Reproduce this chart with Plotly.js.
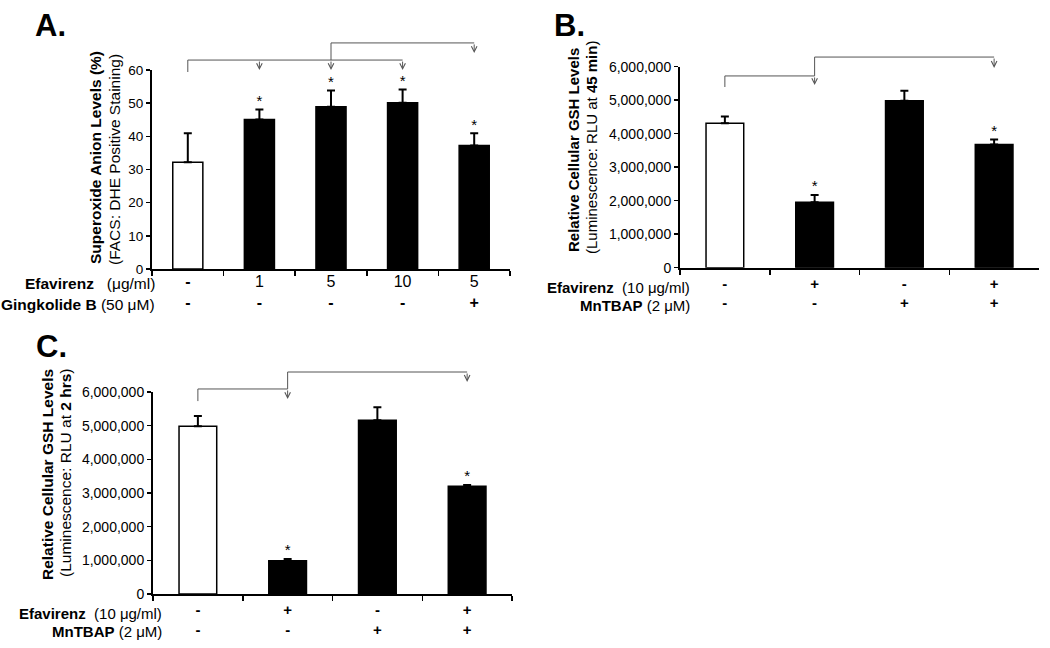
<!DOCTYPE html>
<html>
<head>
<meta charset="utf-8">
<script src="https://cdn.plot.ly/plotly-3.0.1.min.js"></script>
<style>html,body{margin:0;padding:0;background:#fff;}</style>
</head>
<body>
<div id="chart" style="width:1050px;height:648px;"></div>
<script>
// ---------- Panel A ----------
const efavA = ['-', '1', '5', '10', '5'];
const ginkA = ['-', '-', '-', '-', '+'];
const valsA = [32.2, 45.1, 48.9, 50.1, 37.2];
const errA  = [8.7, 3.0, 4.9, 4.0, 3.7];
const sigA  = [false, true, true, true, true];
const fillA = ['white', 'black', 'black', 'black', 'black'];

// ---------- Panel B ----------
const efavB = ['-', '+', '-', '+'];
const mnB   = ['-', '-', '+', '+'];
const valsB = [4310000, 1950000, 4980000, 3680000];
const errB  = [200000, 220000, 300000, 150000];
const sigB  = [false, true, false, true];
const fillB = ['white', 'black', 'black', 'black'];

// ---------- Panel C ----------
const efavC = ['-', '+', '-', '+'];
const mnC   = ['-', '-', '+', '+'];
const valsC = [4980000, 990000, 5160000, 3200000];
const errC  = [310000, 50000, 390000, 40000];
const sigC  = [false, true, false, true];
const fillC = ['white', 'black', 'black', 'black'];

const FONT = 'Liberation Sans, Arial, Helvetica, sans-serif';
const W = 1050, H = 648;

function fmt(s) { return (s === '+' || s === '-') ? '<b>' + s + '</b>' : s; }
function cats(r1, r2) { return r1.map((v, i) => fmt(v) + '<br>' + fmt(r2[i])); }

const catA = cats(efavA, ginkA);
const catB = cats(efavB, mnB);
const catC = cats(efavC, mnC);

function barTrace(x, y, e, fill, xa, ya) {
  return {
    type: 'bar', x: x, y: y, xaxis: xa, yaxis: ya, width: 0.42,
    marker: { color: fill, line: { color: 'black', width: 1.5 } },
    error_y: { type: 'data', array: e, arrayminus: e.map(() => 0), symmetric: false,
               color: 'black', thickness: 2, width: 4 },
    hoverinfo: 'skip', showlegend: false
  };
}
function starTrace(x, y, e, sig, xa, ya) {
  return {
    type: 'scatter', mode: 'text', x: x, y: y.map((v, i) => v + e[i]),
    text: sig.map(s => s ? '*' : ''), textposition: 'top center',
    textfont: { family: FONT, size: 15, color: 'black' },
    xaxis: xa, yaxis: ya, cliponaxis: false, hoverinfo: 'skip', showlegend: false
  };
}

const data = [
  barTrace(catA, valsA, errA, fillA, 'x', 'y'),
  starTrace(catA, valsA, errA, sigA, 'x', 'y'),
  barTrace(catB, valsB, errB, fillB, 'x2', 'y2'),
  starTrace(catB, valsB, errB, sigB, 'x2', 'y2'),
  barTrace(catC, valsC, errC, fillC, 'x3', 'y3'),
  starTrace(catC, valsC, errC, sigC, 'x3', 'y3')
];

function xax(px0, px1, anchor, fsize, standoff) {
  return {
    domain: [px0 / W, px1 / W], anchor: anchor, type: 'category',
    showline: true, linecolor: 'black', linewidth: 2,
    ticks: 'outside', ticklen: 5, tickwidth: 1.5, tickcolor: 'black', tickson: 'boundaries',
    ticklabelstandoff: standoff,
    showgrid: false, zeroline: false, fixedrange: true,
    tickfont: { family: FONT, size: fsize, color: 'black' }
  };
}
function yax(pxTop, pxBot, anchor, range, dtick, fmtStr, fsize) {
  return {
    domain: [1 - pxBot / H, 1 - pxTop / H], anchor: anchor, range: range, dtick: dtick,
    tickformat: fmtStr, showline: true, linecolor: 'black', linewidth: 2,
    ticks: 'outside', ticklen: 4, tickwidth: 1.5, tickcolor: 'black',
    showgrid: false, zeroline: false, fixedrange: true,
    tickfont: { family: FONT, size: fsize, color: 'black' }
  };
}

// pixel geometry of plot areas
const geo = {
  A: { x0: 152, x1: 510, top: 70, bot: 269 },
  B: { x0: 680, x1: 1039, top: 66.7, bot: 267.7 },
  C: { x0: 153, x1: 512, top: 392, bot: 594 }
};

const layout = {
  width: W, height: H, margin: { l: 0, r: 0, t: 0, b: 0 },
  paper_bgcolor: 'white', plot_bgcolor: 'rgba(0,0,0,0)',
  font: { family: FONT, color: 'black' },
  showlegend: false,
  xaxis: xax(geo.A.x0, geo.A.x1, 'y', 16, -3),
  yaxis: yax(geo.A.top, geo.A.bot, 'x', [0, 60], 10, '', 13.5),
  xaxis2: xax(geo.B.x0, geo.B.x1, 'y2', 15, 1),
  yaxis2: yax(geo.B.top, geo.B.bot, 'x2', [0, 6000000], 1000000, ',d', 14),
  xaxis3: xax(geo.C.x0, geo.C.x1, 'y3', 15, 1),
  yaxis3: yax(geo.C.top, geo.C.bot, 'x3', [0, 6000000], 1000000, ',d', 14),
  shapes: [], annotations: []
};

// significance brackets: from category index, to indices, levels in axis-domain units
const bracketsA = [
  { from: 0, to: [1, 2, 3], start: 0.99, level: 1.05, tip: 1.0 },
  { from: 2, to: [4], start: 1.05, level: 1.136, tip: 1.085 }
];
const bracketsB = [
  { from: 0, to: [1], start: 0.899, level: 0.954, tip: 0.909 },
  { from: 1, to: [3], start: 0.954, level: 1.048, tip: 0.994 }
];
const bracketsC = [
  { from: 0, to: [1], start: 0.955, level: 1.015, tip: 0.965 },
  { from: 1, to: [3], start: 1.015, level: 1.099, tip: 1.05 }
];
const BR = '#555555';
function addBrackets(brs, catsArr, xa, ya, g) {
  const hpx = g.bot - g.top;
  brs.forEach(b => {
    const last = b.to[b.to.length - 1];
    layout.shapes.push({ type: 'line', xref: xa, yref: ya + ' domain',
      x0: catsArr[b.from], x1: catsArr[b.from], y0: b.start, y1: b.level,
      line: { color: BR, width: 1 } });
    layout.shapes.push({ type: 'line', xref: xa, yref: ya + ' domain',
      x0: catsArr[b.from], x1: catsArr[last], y0: b.level, y1: b.level,
      line: { color: BR, width: 1 } });
    b.to.forEach(t => {
      layout.annotations.push({ xref: xa, yref: ya + ' domain', x: catsArr[t], y: b.tip,
        ax: 0, ay: -(b.level - b.tip) * hpx, axref: 'pixel', ayref: 'pixel',
        text: '', showarrow: true, arrowhead: 5, arrowsize: 1.1, arrowwidth: 1,
        arrowcolor: BR, standoff: 0, startstandoff: 0 });
    });
  });
}
addBrackets(bracketsA, catA, 'x', 'y', geo.A);
addBrackets(bracketsB, catB, 'x2', 'y2', geo.B);
addBrackets(bracketsC, catC, 'x3', 'y3', geo.C);

function pann(text, px, py, size, opts) {
  layout.annotations.push(Object.assign({
    xref: 'paper', yref: 'paper', x: px / W, y: 1 - py / H, text: text, showarrow: false,
    font: { family: FONT, size: size, color: 'black' }
  }, opts || {}));
}
const NB = '\u00a0';
const LBL = { xanchor: 'left', yanchor: 'middle' };
const RGT = { xanchor: 'right', yanchor: 'middle' };
const ROT = { textangle: -90, xanchor: 'center', yanchor: 'middle' };

// panel letters
pann('<b>A.</b>', 33, 26, 31, LBL);
pann('<b>B.</b>', 552, 26, 31, LBL);
pann('<b>C.</b>', 34, 346, 31, LBL);

// row headers
pann('<b>Efavirenz</b>' + NB + NB + NB + '(\u03bcg/ml)', 157, 283, 15.5, RGT);
pann('<b>Gingkolide B</b>' + NB + '(50' + NB + '\u03bcM)', 157, 304, 15.5, RGT);
pann('<b>Efavirenz</b>' + NB + NB + '(10' + NB + '\u03bcg/ml)', 692, 287, 15, RGT);
pann('<b>MnTBAP</b>' + NB + '(2' + NB + '\u03bcM)', 692, 305, 15, RGT);
pann('<b>Efavirenz</b>' + NB + NB + '(10' + NB + '\u03bcg/ml)', 164, 613, 15, RGT);
pann('<b>MnTBAP</b>' + NB + '(2' + NB + '\u03bcM)', 164, 631, 15, RGT);

// y titles (each line placed separately)
pann('<b>Superoxide Anion Levels (%)</b>', 96, 158, 15.5, ROT);
pann('(FACS: DHE Positive Staining)', 114, 160, 15.5, ROT);
pann('<b>Relative Cellular GSH Levels</b>', 573, 150, 15, ROT);
pann('(Luminescence: RLU at <b>45 min</b>)', 591, 148, 15, ROT);
pann('<b>Relative Cellular GSH Levels</b>', 47, 475, 15.5, ROT);
pann('(Luminescence: RLU at <b>2 hrs</b>)', 65, 473, 15.5, ROT);

Plotly.newPlot('chart', data, layout, { staticPlot: true, displayModeBar: false });
</script>
</body>
</html>
